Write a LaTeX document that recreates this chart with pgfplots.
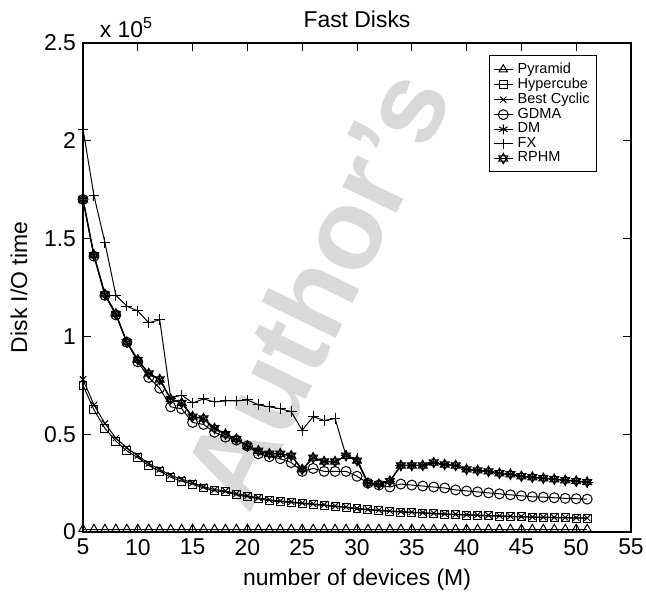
\documentclass[border=0pt]{standalone}
\usepackage{fontspec}
\setmainfont{Liberation Sans}
\usepackage{pgfplots}
\usepackage{pgfplotstable}
\pgfplotsset{compat=1.18}
\usetikzlibrary{calc}

\pgfdeclareplotmark{hexagram}{%
  \pgfpathmoveto{\pgfqpoint{0pt}{\pgfplotmarksize}}%
  \pgfpathlineto{\pgfqpointpolar{210}{\pgfplotmarksize}}%
  \pgfpathlineto{\pgfqpointpolar{330}{\pgfplotmarksize}}%
  \pgfpathclose
  \pgfpathmoveto{\pgfqpoint{0pt}{-\pgfplotmarksize}}%
  \pgfpathlineto{\pgfqpointpolar{30}{\pgfplotmarksize}}%
  \pgfpathlineto{\pgfqpointpolar{150}{\pgfplotmarksize}}%
  \pgfpathclose
  \pgfusepathqstroke}

\pgfplotstableread{
M Pyr Hyp BC GDMA DM FX RPHM
5 1500 75000 78000 170000 170000 206000 170000
6 1500 62500 65000 141000 141500 172000 141500
7 1500 53000 55500 121000 121500 148000 121500
8 1500 46500 48000 111000 111500 121000 111500
9 1500 41500 43000 97000 97000 115500 97000
10 1500 38000 39000 87000 88000 113000 88000
11 1500 34000 35000 79000 81000 107000 81000
12 1500 31000 32000 73500 78000 108500 78000
13 1500 28000 29000 64000 68000 68500 68000
14 1500 26000 27000 63000 66000 70000 66000
15 1500 24500 25200 56000 59000 66000 59000
16 1500 22500 23200 55000 58000 68000 58000
17 1500 21000 21700 51000 53000 66500 53000
18 1500 20500 21000 48500 50000 67000 50000
19 1500 19000 19600 47000 47500 67000 47500
20 1500 18000 18500 44000 44000 67500 44000
21 1500 17000 17500 40000 41500 65000 41500
22 1500 16000 16500 38500 40000 64000 40000
23 1500 15500 15900 37500 40000 63000 40000
24 1500 15000 15400 35500 39000 61500 39000
25 1500 14500 14900 31000 32000 52000 32000
26 1500 14000 14400 32500 38000 59000 38000
27 1500 13500 13900 31000 36000 57000 36000
28 1500 13000 13300 31000 36000 58000 36000
29 1500 12500 12800 31000 39000 39000 39000
30 1500 11800 12100 28500 36500 37500 36500
31 1500 11300 11600 25000 25000 25000 25000
32 1500 10900 11200 24000 24500 24500 24500
33 1500 10500 10800 23000 26000 26000 26000
34 1500 10200 10500 24500 34000 34000 34000
35 1500 9900 10200 24000 34000 34000 34000
36 1500 9600 9900 23500 34000 34000 34000
37 1500 9300 9600 23000 35500 35500 35500
38 1500 9000 9300 22500 34500 34500 34500
39 1500 8800 9100 21500 34000 34000 34000
40 1500 8600 8900 21000 32000 32000 32000
41 1500 8400 8700 20500 31500 31500 31500
42 1500 8200 8500 20000 31000 31000 31000
43 1500 8000 8300 19500 30000 30000 30000
44 1500 7800 8100 19000 29500 29500 29500
45 1500 7700 7900 18500 28500 28500 28500
46 1500 7500 7700 18000 28000 28000 28000
47 1500 7400 7600 17800 27500 27500 27500
48 1500 7300 7500 17500 27000 27000 27000
49 1500 7200 7400 17200 26500 26500 26500
50 1500 7100 7300 17000 26000 26000 26000
51 1500 7000 7200 16800 25500 25500 25500
}\datatable

\begin{document}
\begin{tikzpicture}
\begin{axis}[
  name=ax,
  scale only axis,
  width=274bp, height=244.5bp,
  xmin=5, xmax=55, ymin=0, ymax=250000,
  xtick={5,10,...,55},
  ytick={0,50000,100000,150000,200000,250000},
  yticklabels={0,0.5,1,1.5,2,2.5},
  scaled y ticks=false,
  /pgf/number format/assume math mode=true,
  tick label style={font=\fontsize{11.5}{13}\selectfont},
  label style={font=\fontsize{11.5}{13}\selectfont},
  title style={font=\fontsize{11.5}{13}\selectfont, yshift=-2bp},
  title={Fast Disks},
  xlabel={number of devices (M)},
  ylabel={Disk I/O time},
  ylabel style={yshift=1.5bp},
  axis line style={line width=0.8pt},
  major tick length=4bp,
  tick style={line width=0.5pt, black},
  clip=false,
  every axis plot/.append style={line width=0.5pt, black, mark options={solid, line width=0.5pt}},
  legend style={at={(0.938,0.975)}, anchor=north east,
    font=\fontsize{7.3}{7.6}\selectfont, draw=black, line width=0.5pt,
    inner sep=1.5pt, row sep=-3.2pt},
  legend cell align=left,
  legend image code/.code={\draw[mark repeat=2,mark phase=2] plot coordinates {(0cm,0cm)(0.17cm,0cm)(0.34cm,0cm)};},
]
\node[rotate=64, text=black!15, font=\fontsize{57}{57}\selectfont\bfseries] at (axis cs:26.2,125000) {Author's};
\node[anchor=south west, font=\fontsize{11.5}{13}\selectfont, inner sep=0pt] at (rel axis cs:0.03,1.01) {x 10\textsuperscript{5}};
\addplot[mark=triangle, mark size=2.4pt] table[x=M,y=Pyr] {\datatable};
\addlegendentry{Pyramid}
\addplot[mark=square, mark size=2pt] table[x=M,y=Hyp] {\datatable};
\addlegendentry{Hypercube}
\addplot[mark=x, mark size=2.2pt] table[x=M,y=BC] {\datatable};
\addlegendentry{Best Cyclic}
\addplot[mark=o, mark size=2.5pt] table[x=M,y=GDMA] {\datatable};
\addlegendentry{GDMA}
\addplot[mark=asterisk, mark size=2.5pt, line width=0.7pt] table[x=M,y=DM] {\datatable};
\addlegendentry{DM}
\addplot[mark=+, mark size=2.7pt] table[x=M,y=FX] {\datatable};
\addlegendentry{FX}
\addplot[mark=hexagram, mark size=2.6pt] table[x=M,y=RPHM] {\datatable};
\addlegendentry{RPHM}
\end{axis}
\pgfresetboundingbox
\path ($(ax.south west)+(-41.5bp,-35.5bp)$) rectangle ($(ax.north east)+(7.5bp,21.5bp)$);
\end{tikzpicture}
\end{document}
